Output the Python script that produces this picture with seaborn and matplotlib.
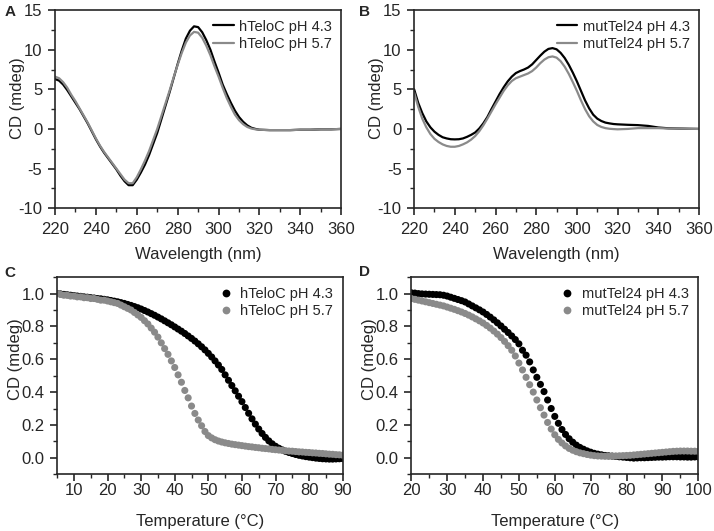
import numpy as np
import pandas as pd
import seaborn as sns
import matplotlib.pyplot as plt
from matplotlib.ticker import MultipleLocator, FormatStrFormatter

# ---- CD spectra (panels A, B) ----
wl = [220, 222, 224, 226, 228, 230, 232, 234, 236, 238, 240, 242, 244, 246, 248,
      250, 252, 254, 256, 258, 260, 262, 264, 266, 268, 270, 272, 274, 276, 278,
      280, 282, 284, 286, 288, 290, 292, 294, 296, 298, 300, 302, 304, 306, 308,
      310, 312, 314, 316, 318, 320, 325, 330, 335, 340, 345, 350, 355, 360]

htelo_43 = [6.3, 6.1, 5.6, 4.9, 4.1, 3.3, 2.5, 1.6, 0.7, -0.3, -1.3, -2.2, -3.0, -3.7, -4.4,
            -5.1, -5.9, -6.6, -7.1, -7.1, -6.4, -5.5, -4.5, -3.3, -1.9, -0.5, 1.2, 2.9, 4.6, 6.4,
            8.2, 9.9, 11.4, 12.4, 12.95, 12.85, 12.2, 11.2, 10.0, 8.5, 7.1, 5.6, 4.4, 3.3, 2.3,
            1.5, 0.9, 0.45, 0.15, 0.0, -0.1, -0.15, -0.15, -0.15, -0.1, -0.1, -0.05, -0.05, 0.0]
htelo_57 = [6.6, 6.4, 5.9, 5.2, 4.3, 3.5, 2.6, 1.7, 0.8, -0.2, -1.2, -2.1, -2.9, -3.6, -4.3,
            -5.0, -5.7, -6.4, -6.85, -6.85, -6.1, -5.1, -4.0, -2.8, -1.4, 0.0, 1.6, 3.2, 4.8, 6.5,
            8.1, 9.6, 10.9, 11.8, 12.25, 12.15, 11.5, 10.5, 9.3, 7.9, 6.6, 5.2, 3.9, 2.8, 1.8,
            1.1, 0.6, 0.25, 0.05, -0.05, -0.1, -0.15, -0.15, -0.15, -0.1, -0.1, -0.05, -0.05, 0.0]

mut_43 = [5.0, 3.3, 2.0, 0.95, 0.2, -0.35, -0.75, -1.05, -1.2, -1.3, -1.32, -1.3, -1.2, -1.0, -0.75,
          -0.45, 0.05, 0.7, 1.5, 2.5, 3.45, 4.4, 5.25, 6.0, 6.6, 7.05, 7.3, 7.5, 7.75, 8.15,
          8.7, 9.25, 9.75, 10.1, 10.2, 10.05, 9.6, 8.95, 8.1, 7.1, 6.0, 4.8, 3.6, 2.6, 1.8,
          1.3, 1.0, 0.8, 0.7, 0.62, 0.58, 0.52, 0.48, 0.38, 0.18, 0.08, 0.05, 0.02, 0.0]
mut_57 = [4.6, 2.8, 1.3, 0.2, -0.65, -1.25, -1.65, -1.95, -2.15, -2.25, -2.25, -2.15, -1.95, -1.7, -1.35,
          -0.9, -0.3, 0.45, 1.3, 2.2, 3.1, 3.95, 4.8, 5.5, 6.05, 6.4, 6.6, 6.8, 7.0, 7.3,
          7.75, 8.3, 8.75, 9.05, 9.15, 9.0, 8.55, 7.85, 6.95, 5.9, 4.8, 3.6, 2.5, 1.6, 0.95,
          0.5, 0.25, 0.1, 0.02, -0.02, -0.05, 0.0, 0.1, 0.1, 0.1, 0.05, 0.05, 0.02, 0.0]

# ---- melting curves (panels C, D) ----
temp_c = list(range(5, 91))
melt_htelo_43 = [1.00, 0.998, 0.995, 0.993, 0.99, 0.988, 0.985, 0.983, 0.98, 0.978,
                 0.975, 0.973, 0.97, 0.968, 0.965, 0.962, 0.958, 0.954, 0.95, 0.945,
                 0.94, 0.934, 0.928, 0.921, 0.914, 0.906, 0.897, 0.888, 0.878, 0.868,
                 0.857, 0.846, 0.834, 0.822, 0.81, 0.797, 0.784, 0.771, 0.757, 0.742,
                 0.727, 0.711, 0.694, 0.676, 0.657, 0.636, 0.614, 0.59, 0.565, 0.538,
                 0.505, 0.472, 0.44, 0.408, 0.375, 0.342, 0.306, 0.271, 0.237, 0.205,
                 0.175, 0.148, 0.124, 0.103, 0.085, 0.07, 0.058, 0.048, 0.039, 0.032,
                 0.026, 0.02, 0.015, 0.011, 0.007, 0.004, 0.001, -0.002, -0.004, -0.006,
                 -0.007, -0.008, -0.008, -0.007, -0.006, -0.005]
melt_htelo_57 = [1.00, 0.995, 0.99, 0.99, 0.985, 0.985, 0.98, 0.98, 0.975, 0.975,
                 0.97, 0.97, 0.965, 0.96, 0.96, 0.955, 0.95, 0.945, 0.94, 0.93,
                 0.92, 0.91, 0.90, 0.885, 0.87, 0.855, 0.835, 0.815, 0.79, 0.765,
                 0.735, 0.70, 0.665, 0.63, 0.59, 0.55, 0.505, 0.46, 0.41, 0.365,
                 0.315, 0.27, 0.23, 0.195, 0.16, 0.135, 0.121, 0.11, 0.102, 0.096,
                 0.091, 0.087, 0.083, 0.08, 0.077, 0.074, 0.071, 0.068, 0.066, 0.063,
                 0.061, 0.058, 0.056, 0.054, 0.051, 0.049, 0.047, 0.045, 0.043, 0.041,
                 0.04, 0.038, 0.036, 0.035, 0.033, 0.032, 0.03, 0.029, 0.027, 0.026,
                 0.024, 0.022, 0.021, 0.019, 0.018, 0.016]

temp_d = list(range(20, 101))
melt_mut_43 = [1.005, 1.003, 1.0, 0.998, 0.997, 0.996, 0.995, 0.994, 0.993, 0.99,
               0.985, 0.978, 0.971, 0.964, 0.957, 0.949, 0.937, 0.925, 0.913, 0.901,
               0.888, 0.873, 0.857, 0.84, 0.822, 0.803, 0.783, 0.763, 0.742, 0.72,
               0.694, 0.655, 0.625, 0.584, 0.535, 0.49, 0.447, 0.403, 0.352, 0.3,
               0.252, 0.21, 0.172, 0.142, 0.116, 0.095, 0.077, 0.063, 0.052, 0.042,
               0.034, 0.027, 0.022, 0.018, 0.014, 0.012, 0.01, 0.008, 0.006, 0.004,
               0.002, 0.0, -0.002, -0.001, 0.0, 0.0, 0.001, 0.002, 0.003, 0.004,
               0.004, 0.005, 0.006, 0.006, 0.006, 0.005, 0.005, 0.004, 0.004, 0.005, 0.005]
melt_mut_57 = [0.97, 0.965, 0.96, 0.955, 0.95, 0.945, 0.94, 0.935, 0.93, 0.925,
               0.918, 0.911, 0.904, 0.896, 0.888, 0.879, 0.869, 0.858, 0.846, 0.834,
               0.821, 0.806, 0.79, 0.772, 0.753, 0.732, 0.709, 0.683, 0.655, 0.62,
               0.577, 0.535, 0.49, 0.445, 0.4, 0.352, 0.305, 0.26, 0.215, 0.175,
               0.14, 0.112, 0.09, 0.072, 0.057, 0.046, 0.037, 0.03, 0.025, 0.02,
               0.016, 0.013, 0.011, 0.01, 0.009, 0.009, 0.01, 0.011, 0.012, 0.013,
               0.014, 0.015, 0.017, 0.019, 0.021, 0.023, 0.025, 0.027, 0.029, 0.031,
               0.033, 0.035, 0.037, 0.039, 0.04, 0.041, 0.041, 0.041, 0.04, 0.04, 0.039]

BLACK = "#000000"
GREY = "#8a8a8a"
NARROW = ["Liberation Sans Narrow", "Liberation Sans", "DejaVu Sans"]

sns.set_style("ticks")
plt.rcParams["font.family"] = ["Liberation Sans", "DejaVu Sans"]
plt.rcParams["axes.unicode_minus"] = False
plt.rcParams["axes.linewidth"] = 1.2

fig = plt.figure(figsize=(7.14, 5.31), dpi=100)
axA = fig.add_axes([0.077, 0.608, 0.401, 0.373])
axB = fig.add_axes([0.580, 0.608, 0.399, 0.373])
axC = fig.add_axes([0.080, 0.107, 0.400, 0.371])
axD = fig.add_axes([0.576, 0.107, 0.402, 0.371])


def spectrum(ax, y43, y57, name):
    df = pd.DataFrame({
        "wl": wl * 2,
        "cd": y43 + y57,
        "s": [name + " pH 4.3"] * len(wl) + [name + " pH 5.7"] * len(wl),
    })
    sns.lineplot(data=df, x="wl", y="cd", hue="s", palette=[BLACK, GREY],
                 linewidth=1.6, ax=ax)
    ax.set_xlim(220, 360)
    ax.set_ylim(-10, 15)
    ax.xaxis.set_major_locator(MultipleLocator(20))
    ax.xaxis.set_minor_locator(MultipleLocator(10))
    ax.yaxis.set_major_locator(MultipleLocator(5))
    ax.yaxis.set_minor_locator(MultipleLocator(2.5))
    ax.set_xlabel("Wavelength (nm)", fontsize=12)
    ax.xaxis.set_label_coords(0.5, -0.195)
    ax.set_ylabel("CD (mdeg)", fontsize=12, family=NARROW)
    ax.yaxis.set_label_coords(-0.105, 0.556)
    ax.tick_params(axis="x", which="major", pad=5)
    ax.legend(loc="upper right", frameon=False, fontsize=10.5,
              handlelength=1.4, handletextpad=0.35, borderaxespad=0.25, labelspacing=0.25)


def melting(ax, t, y43, y57, name, xlim):
    df = pd.DataFrame({
        "t": t * 2,
        "cd": y43 + y57,
        "s": [name + " pH 4.3"] * len(t) + [name + " pH 5.7"] * len(t),
    })
    sns.scatterplot(data=df, x="t", y="cd", hue="s", palette=[BLACK, GREY],
                    s=26, linewidth=0, ax=ax)
    ax.set_xlim(*xlim)
    ax.set_ylim(-0.1, 1.1)
    ax.xaxis.set_major_locator(MultipleLocator(10))
    ax.xaxis.set_minor_locator(MultipleLocator(5))
    ax.yaxis.set_major_locator(MultipleLocator(0.2))
    ax.yaxis.set_minor_locator(MultipleLocator(0.1))
    ax.yaxis.set_major_formatter(FormatStrFormatter("%.1f"))
    ax.set_xlabel("Temperature (\u00b0C)", fontsize=12)
    ax.xaxis.set_label_coords(0.5, -0.2)
    ax.set_ylabel("CD (mdeg)", fontsize=12)
    ax.yaxis.set_label_coords(-0.12, 0.584)
    ax.tick_params(axis="x", which="major", pad=1.5)
    ax.legend(loc="upper right", frameon=False, fontsize=10.5,
              handletextpad=0.0, borderaxespad=0.25, labelspacing=0.25, markerscale=1.1)


spectrum(axA, htelo_43, htelo_57, "hTeloC")
spectrum(axB, mut_43, mut_57, "mutTel24")
melting(axC, temp_c, melt_htelo_43, melt_htelo_57, "hTeloC", (5, 90))
melting(axD, temp_d, melt_mut_43, melt_mut_57, "mutTel24", (20, 100))

for ax in [axA, axB, axC, axD]:
    ax.tick_params(which="major", length=5, width=1.2, labelsize=12)
    ax.tick_params(axis="y", which="major", pad=4)
    ax.tick_params(which="minor", length=3, width=1.0)
    for lbl in ax.get_xticklabels() + ax.get_yticklabels():
        lbl.set_family(NARROW)
    for sp in ax.spines.values():
        sp.set_linewidth(1.2)

for lab, x, y in [("A", 0.014, 0.978), ("B", 0.510, 0.978),
                  ("C", 0.014, 0.486), ("D", 0.510, 0.488)]:
    fig.text(x, y, lab, fontsize=11, fontweight="bold", va="center", ha="center")

fig.savefig("out.png", dpi=100)
